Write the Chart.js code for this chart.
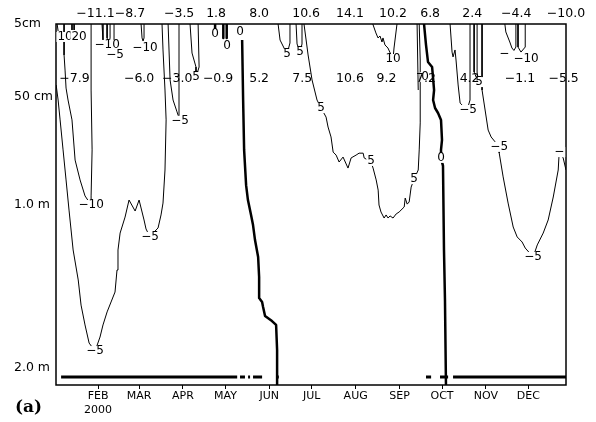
<!DOCTYPE html>
<html>
<head>
<meta charset="utf-8">
<script src="https://cdn.jsdelivr.net/npm/chart.js@4.4.1/dist/chart.umd.min.js"></script>
<style>
	body { margin: 0; background: #fff; }
</style>
</head>
<body>
<canvas id="mycanvas" width="596" height="422"></canvas>
<script>
// x = day of year 2000 (1 Jan = 0), y = depth in cm
var monthStarts = [31, 60, 91, 121, 152, 182, 213, 244, 274, 305, 335];
var monthNames = [['FEB', '2000'], 'MAR', 'APR', 'MAY', 'JUN', 'JUL', 'AUG', 'SEP', 'OCT', 'NOV', 'DEC'];
var depthTicks = [5, 50, 100, 200];
var depthLabels = ['5cm', '50 cm', '1.0 m', '2.0 m'];

// monthly means written above the frame (5 cm) and in the 50 cm row
var surfaceDays = [29.2, 53.6, 88.3, 114.4, 144.8, 178, 209, 239.4, 265.6, 295.3, 326.4, 361.6];
var surfaceMeans = ['−11.1', '−8.7', '−3.5', '1.8', '8.0', '10.6', '14.1', '10.2', '6.8', '2.4', '−4.4', '−10.0'];
var deepDays = [14.4, 60, 86.9, 115.8, 144.8, 175.2, 209, 234.8, 262.7, 293.5, 329.1, 359.9];
var deepMeans = ['−7.9', '−6.0', '−3.0', '−0.9', '5.2', '7.5', '10.6', '9.2', '7.2', '4.2', '−1.1', '−5.5'];

// contour lines as [day, depth], null = break
var iso0 = [
	[113.7, 5], [113.7, 7.5], null,
	[119.5, 5], [119.5, 13.6], null,
	[121.9, 5], [121.9, 13.6], null,
	[132.8, 14.9], [133.5, 51.4], [134.2, 74.5], [135.6, 90.8], [136.9, 97.7], [139.1, 106.1], [140.5, 112.3],
	[141.9, 121.5], [144.1, 131.9], [144.8, 144.2], [144.8, 157], [146.9, 159.5], [147.6, 162.6], [149, 168.1],
	[153.9, 171.2], [156.8, 173.6], [157.5, 189], [157.5, 210.4], null,
	[261.3, 5], [262.7, 17.9], [264.1, 28.4], [267, 31.5], [267.7, 38.3], [268.4, 45.7], [267.7, 51.4],
	[269.1, 55.1], [271.2, 57.4], [273.3, 60.6], [274, 69.9], [273.3, 74.5], [273.3, 78.2], [274.7, 81.9],
	[275.4, 127.6], [276.1, 158.3], [276.8, 210.4]
];
var isoM5 = [
	[1.4, 42.6], [2.8, 51.4], [4.2, 60.6], [6.3, 74.5], [8.4, 88.4], [10.5, 103.1], [13.4, 127.6], [17, 146],
	[19, 161.4], [21.8, 173.6], [24.7, 184.7], [28.9, 189.6], [32.4, 181], [34.5, 173.6], [37.4, 165.6],
	[40.2, 159.5], [43, 153.4], [44.4, 139.9], [45.1, 127.6], [46.6, 117.2], [50.1, 107.4], [52.9, 97.7],
	[57.2, 103.7], [60, 97.7], [63.5, 109.2], [64.9, 114.7], [67.7, 119.6], [72, 115.3], [73.4, 114.1],
	[75.5, 106.1], [76.9, 99.1], [78.3, 83.8], [79.1, 60.6], [78.3, 45.7], [76.9, 21], [76.2, 5], null,
	[33.8, 5], [34.5, 14.9], [38.1, 21], [43, 24.1], [42.3, 14.9], [42.3, 5], null,
	[80.5, 5], [81.9, 39.5], [84, 51.4], [86.8, 56.9], [88.9, 61], [88.2, 56.9], [88.2, 5], null,
	[96, 5], [97.4, 22.9], [100.2, 31.5], [100.2, 37.7], [102.4, 31.5], [101.7, 5], null,
	[279.7, 5], [281.1, 22.3], [281.8, 25.3], [283.2, 21], [283.9, 27.2], [285.4, 42.6], [286.8, 52.8],
	[291.7, 56], [293.8, 51.4], [293.8, 5], null,
	[296.7, 5], [296.7, 34.6], [299.5, 40.8], [298.8, 34.6], [298.8, 5], null,
	[302.3, 5], [302.3, 45.7], [306.6, 65.3], [308.7, 68.5], [314.4, 73.1], [314.4, 75.9], [317.2, 87],
	[320.7, 99.1], [324.3, 113.5], [327.1, 119.6], [330.6, 122.7], [332.8, 126.4], [338.4, 131.9],
	[341.3, 124.5], [345.5, 117.2], [349, 109.2], [352.6, 96.3], [356.1, 83.8], [356.8, 75.5],
	[359.6, 78.2], [361.6, 83.8], null,
	[318.4, 5], [319.1, 9.9], [321.9, 16.1], [323.4, 19.8], [324.8, 21.3], [326.2, 19.2], [326.2, 5]
];
var isoM10 = [
	[7, 5], [7, 24.1], [7.7, 33.4], [8.4, 44.5], [9.8, 51.4], [12.6, 60.6], [14.8, 79.2], [18.3, 88.4],
	[21.8, 95.8], [26.1, 100], [26.1, 95.8], [26.8, 74.5], [26.1, 45.7], [26.1, 5], null,
	[37.4, 5], [37.4, 13.6], [38.4, 17.9], [39.5, 13.6], [39.5, 5], null,
	[61.4, 5], [62.1, 13.6], [62.8, 15.5], [63.5, 13.6], [63.5, 5], null,
	[327.7, 5], [327.7, 19.2], [329.8, 22.3], [332.8, 19.2], [332.8, 5]
];
var isoM20 = [
	[2.1, 5], [2.8, 9.3], null,
	[12.6, 5], [12.6, 8.7], null,
	[14.1, 5], [14.1, 8.7]
];
var iso5 = [
	[158.2, 5], [159.6, 14.9], [162.4, 19.8], [164.5, 23.5], [166.6, 16.7], [166.6, 5], null,
	[170.9, 5], [171.6, 17.3], [173.7, 22.3], [175.1, 17.3], [175.1, 5], null,
	[176.5, 5], [179.4, 24.1], [182.2, 39.5], [185.7, 51.4], [188.6, 55.1], [192.1, 59.3], [193.5, 63.9],
	[195.6, 68.5], [197.1, 75.5], [199.2, 76.9], [201.3, 80.1], [204.1, 77.8], [207.6, 82.9], [209.8, 78.2],
	[213.3, 76.9], [215.4, 76], [218.3, 76], [219, 78.2], [223.9, 80.1], [225.3, 82.9], [227.5, 88.4],
	[228.9, 93.1], [229.5, 100], [230.9, 104.3], [233.1, 108], [234.5, 106.1], [235.9, 108], [237.3, 106.7],
	[239.4, 108], [241.6, 105.5], [243.7, 104.3], [247.3, 101.2], [248, 96.8], [249.4, 99.6], [250.8, 98.6],
	[252.2, 91.7], [254.3, 88], [257.2, 83.8], [257.9, 74.5], [258.6, 62], [258.6, 27.2], [257.9, 5], null,
	[256.4, 5], [257.2, 45.7]
];
var iso10 = [
	[225.1, 5], [227.3, 10.5], [228.8, 13.6], [230.2, 12.4], [231.6, 16.1], [232.3, 13.6], [233.7, 17.9],
	[235.8, 19.8], [239.4, 26.6], [240.1, 19.8], [242.2, 5]
];
// thick bar near the bottom
var flagDepth = 205.5;
var flagSpans = [[4.9, 129.3], [131.3, 134.8], [137, 138.4], [140.5, 146.9], [158, 158.7],
	[262.7, 266.3], [272.6, 278.3], [281.8, 361.6]];

var contourLabels = [
	[7.7, 13, '10'], [17.6, 13, '20'], [37.4, 17.9, '−10'], [43, 24.1, '−5'], [64.2, 19.8, '−10'],
	[88.9, 61, '−5'], [100.2, 37.7, '5'], [113.7, 11.2, '0'], [122.1, 18.6, '0'], [131.3, 9.9, '0'],
	[26.1, 100, '−10'], [67.7, 119.6, '−5'], [28.9, 189.6, '−5'], [164.5, 23.5, '5'], [173.7, 22.3, '5'],
	[188.6, 55.1, '5'], [239.4, 26.6, '10'], [223.9, 79.6, '5'], [254.3, 88, '5'], [262, 37.7, '0'],
	[273.3, 78.2, '0'], [292.4, 56, '−5'], [300.1, 40.8, '5'], [314.4, 73.1, '−5'], [338.4, 131.9, '−5'],
	[356.8, 75.5, '−'], [318, 23.5, '−'], [333.4, 26.6, '−10']
];

// uneven depth axis (levels are not evenly spaced in the original)
var depthStops = [5, 50, 100, 200, 210.4];
var depthFrac = [0, 73 / 361, 181 / 361, 344 / 361, 1];
var LinearScale = Chart.registry.getScale('linear');
class DepthScale extends LinearScale {
	getPixelForValue(v) {
		if (v === null || v === undefined || isNaN(v)) return NaN;
		var i = 0;
		while (i < depthStops.length - 2 && v > depthStops[i + 1]) i++;
		var t = depthFrac[i] + (v - depthStops[i]) / (depthStops[i + 1] - depthStops[i]) * (depthFrac[i + 1] - depthFrac[i]);
		return this.top + t * (this.bottom - this.top);
	}
}
DepthScale.id = 'depth';
DepthScale.defaults = {};
Chart.register(DepthScale);

function toPoints(pairs) {
	var out = [];
	for (var i = 0; i < pairs.length; i++) {
		if (pairs[i] === null) out.push({x: pairs[i - 1][0], y: null});
		else out.push({x: pairs[i][0], y: pairs[i][1]});
	}
	return out;
}

function contour(pairs, width) {
	return {
		data: toPoints(pairs),
		borderColor: '#000',
		borderWidth: width,
		pointRadius: 0,
		fill: false,
		tension: 0,
		spanGaps: false,
		borderJoinStyle: 'round'
	};
}

var flagPairs = [];
flagSpans.forEach(function(s, i) {
	if (i > 0) flagPairs.push(null);
	flagPairs.push([s[0], flagDepth], [s[1], flagDepth]);
});

var overlay = {
	id: 'overlay',
	afterDatasetsDraw: function(chart) {
		var ctx = chart.ctx, a = chart.chartArea, xs = chart.scales.x, ys = chart.scales.y;
		ctx.save();
		ctx.strokeStyle = '#000';
		ctx.lineWidth = 1.5;
		ctx.strokeRect(a.left, a.top, a.right - a.left, a.bottom - a.top);
		ctx.textAlign = 'center';
		ctx.textBaseline = 'middle';
		ctx.font = '12px "DejaVu Sans"';
		contourLabels.forEach(function(l) {
			var px = xs.getPixelForValue(l[0]), py = ys.getPixelForValue(l[1]);
			var w = ctx.measureText(l[2]).width;
			ctx.fillStyle = '#fff';
			ctx.fillRect(px - w / 2 - 1, py - 5, w + 2, 10);
			ctx.fillStyle = '#000';
			ctx.fillText(l[2], px, py);
		});
		ctx.font = '12.5px "DejaVu Sans"';
		deepMeans.forEach(function(t, i) {
			ctx.fillText(t, xs.getPixelForValue(deepDays[i]), ys.getPixelForValue(50) - 18);
		});
		ctx.beginPath();
		ctx.rect(0, 0, 587, a.top);
		ctx.clip();
		surfaceMeans.forEach(function(t, i) {
			ctx.fillText(t, xs.getPixelForValue(surfaceDays[i]), a.top - 10);
		});
		ctx.restore();

		ctx.save();
		ctx.font = 'bold 17px "DejaVu Serif"';
		ctx.textBaseline = 'middle';
		ctx.fillStyle = '#000';
		ctx.fillText('(a)', 15, 408);
		ctx.restore();
	}
};

Chart.defaults.font.family = 'DejaVu Sans';
Chart.defaults.color = '#000';

var ctx = document.getElementById('mycanvas');
var chart = new Chart(ctx, {
	type: 'line',
	data: {
		datasets: [
			contour(isoM20, 1),
			contour(isoM10, 1),
			contour(isoM5, 1),
			contour(iso5, 1),
			contour(iso10, 1),
			contour(iso0, 2.5),
			contour(flagPairs, 3)
		]
	},
	options: {
		responsive: false,
		animation: false,
		events: [],
		layout: { padding: { left: 14, top: 24, right: 30, bottom: 0 } },
		plugins: { legend: { display: false }, tooltip: { enabled: false } },
		scales: {
			x: {
				type: 'linear',
				min: 1.3,
				max: 361.6,
				afterBuildTicks: function(s) {
					s.ticks = monthStarts.map(function(v) { return {value: v}; });
				},
				afterFit: function(s) { s.height = 37; },
				grid: { drawOnChartArea: false, drawTicks: true, tickLength: 4, color: '#000', lineWidth: 1 },
				border: { display: false },
				ticks: {
					autoSkip: false,
					maxRotation: 0,
					padding: 0,
					color: '#000',
					font: { size: 11, lineHeight: 14 / 11 },
					callback: function(v) { return monthNames[monthStarts.indexOf(v)]; }
				}
			},
			y: {
				type: 'depth',
				min: 5,
				max: 210.4,
				afterBuildTicks: function(s) {
					s.ticks = depthTicks.map(function(v) { return {value: v}; });
				},
				afterFit: function(s) { s.width = 42; },
				grid: { display: false },
				border: { display: false },
				ticks: {
					crossAlign: 'far',
					autoSkip: false,
					padding: 0,
					color: '#000',
					font: { size: 12.5 },
					callback: function(v) { return depthLabels[depthTicks.indexOf(v)]; }
				}
			}
		}
	},
	plugins: [overlay]
});
</script>
</body>
</html>
